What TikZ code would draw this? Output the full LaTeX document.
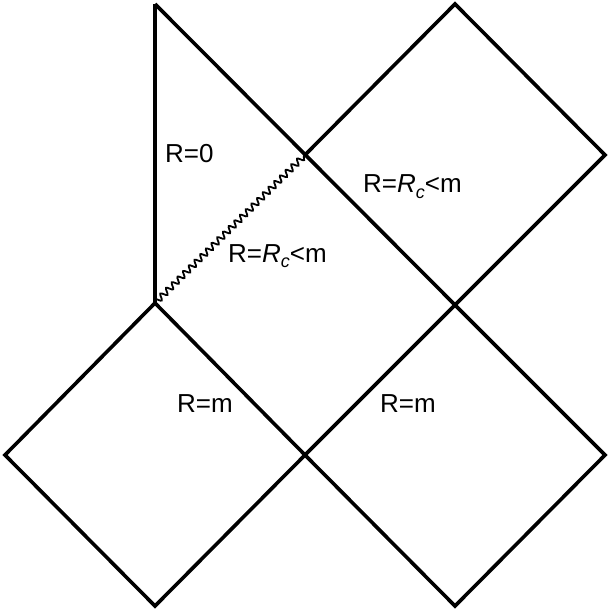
\documentclass[tikz,border=0pt]{standalone}
\usepackage{fontspec}
\setmainfont{Liberation Sans}
\usetikzlibrary{decorations.pathmorphing}
\begin{document}
\begin{tikzpicture}[x=1pt,y=-1pt,
  edge/.style={line width=3.6pt},
  axis/.style={line width=4.5pt},
  wavy/.style={line width=1.8pt,decorate,decoration={snake,segment length=8pt,amplitude=3pt}},
  lbl/.style={anchor=base west,inner sep=0pt,font=\fontsize{26}{30}\selectfont}]
\useasboundingbox (0,0) rectangle (607,612);
\coordinate (A) at (155,4);
\coordinate (B) at (155,303);
\coordinate (C) at (305,155);
\coordinate (D) at (455,4);
\coordinate (E) at (605,155);
\coordinate (F) at (455,305);
\coordinate (G) at (5,455);
\coordinate (H) at (155,606);
\coordinate (I) at (305,455);
\coordinate (J) at (455,606);
\coordinate (K) at (605,455);
\draw[axis] (B) -- (A);
\draw[edge] (A) -- (F);
\draw[edge] (C) -- (D) -- (E) -- (F);
\draw[edge] (B) -- (G) -- (H) -- (I);
\draw[edge] (B) -- (I) -- (J) -- (K) -- (F) -- (I);
\draw[wavy] (B) -- (C);
\newcommand{\rcl}{R=\textit{R}\raisebox{-0.22em}{\fontsize{18}{20}\selectfont\itshape c}<m}
\node[lbl] (l0) at (165,163) {R=0};
\node[lbl] (l1) at (228,262) {\rcl};
\node[lbl] (l2) at (363,193) {\rcl};
\node[lbl] (l3) at (177,412) {R=m};
\node[lbl] (l4) at (380,412) {R=m};
\end{tikzpicture}
\end{document}
